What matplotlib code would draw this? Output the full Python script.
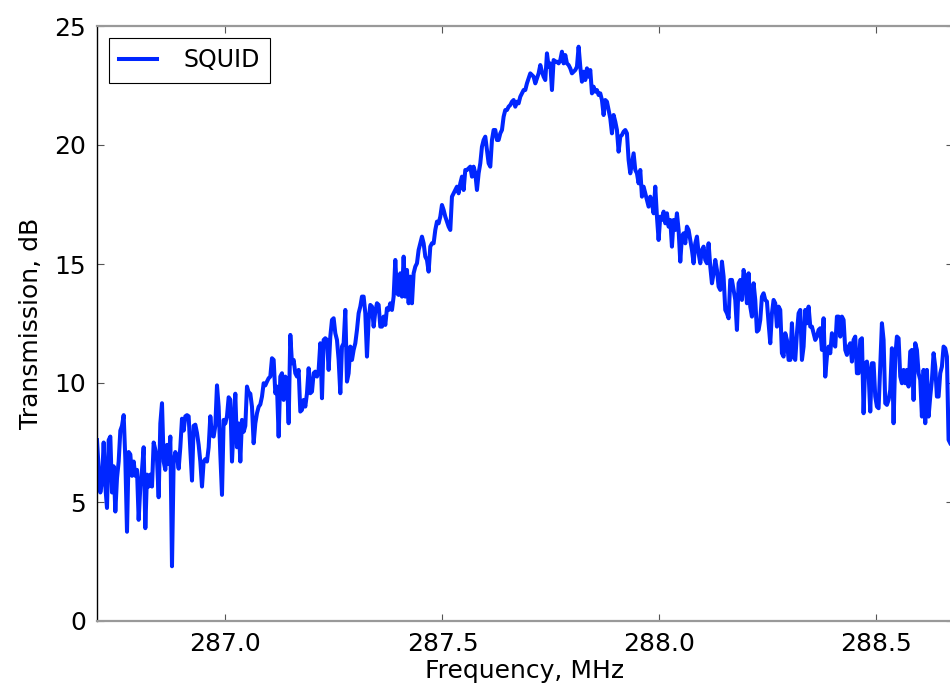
import numpy as np
import matplotlib
matplotlib.use("Agg")
import matplotlib.pyplot as plt

# sweep range (MHz), points are evenly spaced
f_start = 286.704
f_stop = 288.670

# transmission in dB left to right
db_left_tail = [
    7.6, 6.4, 5.4, 5.9, 7.5, 5.65, 4.75, 7.6, 7.75, 5.4, 6.5, 4.6, 6.0, 6.7, 8.0,
    8.2, 8.65, 6.8, 3.75, 7.1, 7.0, 6.1, 6.7, 6.1, 6.35, 4.25, 5.65, 6.35, 7.3, 3.9,
    6.15, 5.65, 6.15, 5.65, 7.5, 7.2, 6.8, 5.2, 8.3, 9.15, 6.7, 6.35, 7.4, 6.6, 7.75,
    2.3, 6.7, 7.1, 6.9, 6.4, 7.3, 8.5, 8.0, 8.6, 8.65, 8.6, 7.2, 5.9, 8.2, 8.25,
    7.9, 7.4, 6.7, 5.65, 6.7, 6.8, 6.7, 7.3, 8.6, 7.8, 7.75, 8.2, 9.9, 9.0, 7.0,
    5.3, 8.45, 8.3, 8.6, 9.4, 9.3, 6.7, 8.2, 9.55, 7.3, 8.3, 6.7, 8.45, 7.95, 8.2,
]
db_lower_rise = [
    9.85, 9.6, 9.55, 9.0, 7.47, 8.3, 8.73, 9.0, 9.1, 9.43, 9.99, 9.9, 10.06, 10.2, 10.27,
    11.04, 10.97, 9.57, 9.85, 7.75, 10.27, 10.41, 9.29, 10.27, 10.13, 8.31, 12.02, 10.83, 10.97, 10.41,
    10.27, 10.55, 8.8, 8.87, 9.29, 9.01, 9.57, 10.62, 9.57, 9.64, 10.41, 10.48, 10.27, 10.55, 11.67,
    9.36, 11.81, 11.88, 11.81, 10.55, 11.95, 12.65, 12.72, 12.09, 11.81, 10.97, 9.57, 11.53, 11.67, 13.07,
    10.06, 10.41, 11.53, 10.97, 11.39, 11.67, 12.23, 12.93, 13.21, 13.63, 13.63, 12.93, 11.11, 12.65, 13.28,
    13.21, 12.37, 13.0, 13.35, 13.28, 12.37, 12.37, 12.79, 12.44, 13.14, 13.07, 13.35,
]
db_upper_rise = [
    13.07, 13.63, 15.17, 13.77, 13.7, 14.61, 13.63, 15.31, 13.63, 14.75, 13.35, 14.47, 13.35, 14.61, 14.89,
    15.03, 15.59, 15.87, 16.15, 15.87, 15.31, 15.17, 14.68, 15.73, 15.87, 15.87, 16.43, 16.78, 16.71, 16.99,
    17.48, 17.27, 16.99, 16.78, 16.57, 16.43, 17.83, 17.97, 18.11, 18.25, 17.97, 18.39, 18.67, 18.11, 18.95,
    18.95, 19.02, 19.09, 18.67, 19.09, 18.81, 18.11, 18.81, 19.23, 19.93, 20.21, 20.35, 19.79, 19.23, 19.09,
    20.21, 20.63, 20.63, 20.21, 20.21, 20.49, 20.63, 21.19, 21.47, 21.47, 21.61, 21.68, 21.82, 21.89, 21.61,
    21.82, 21.75, 22.03, 22.17, 22.31, 22.31, 22.59, 22.8, 23.01, 22.94, 22.87, 22.59, 22.8, 23.01, 23.36,
    23.08, 22.87, 22.73,
]
db_peak_fall = [
    23.85, 23.29, 23.43, 22.31, 23.57, 23.5, 23.5, 23.43, 23.57, 23.92, 23.43, 23.78, 23.43, 23.36, 23.22,
    23.01, 23.08, 23.15, 23.29, 24.13, 23.29, 22.66, 23.08, 22.73, 23.22, 22.87, 23.15, 22.17, 22.45, 22.24,
    22.31, 22.1, 22.17, 21.89, 21.26, 21.89, 21.82, 21.47, 21.12, 20.49, 21.26, 20.98, 20.63, 19.72, 20.35,
    20.42, 20.56, 20.63, 20.49, 19.37, 18.81, 19.23, 19.65, 18.95, 18.81, 18.39, 18.95, 17.83, 18.25, 17.97,
    17.69, 17.41, 17.83, 17.55, 17.13, 18.25, 16.99, 16.01, 16.99, 16.85, 17.2, 16.71, 17.13, 16.57, 16.85,
    15.73, 16.85, 16.43, 17.13, 16.43, 15.1, 16.15, 16.29, 15.87, 16.57, 16.43, 16.01,
]
db_lower_fall = [
    15.59, 15.03, 15.87, 16.15, 15.45, 15.03, 15.59, 15.73, 15.17, 15.03, 15.87, 14.89, 14.19, 14.61, 15.17,
    14.75, 14.05, 13.91, 15.1, 14.47, 13.07, 12.93, 12.72, 14.33, 14.33, 13.91, 13.49, 12.23, 14.19, 14.33,
    13.49, 14.75, 14.33, 13.35, 14.61, 13.21, 12.79, 14.19, 13.49, 12.16, 12.23, 12.65, 13.63, 13.77, 13.49,
    13.42, 12.51, 11.67, 12.93, 13.49, 13.35, 12.37, 13.21, 13.07, 11.25, 11.11, 12.09, 11.81, 10.97, 10.97,
    12.51, 11.11, 10.97, 12.09, 12.93, 13.07, 10.97, 11.53, 13.07, 12.51, 13.21, 12.37, 12.37, 12.09, 11.81,
    11.95, 12.23, 12.3, 11.39, 12.72, 10.27, 11.11, 11.53, 11.25, 12.09, 11.67, 11.53,
]
db_right_tail = [
    12.79, 12.79, 11.95, 12.79, 12.65, 11.39, 11.18, 11.53, 11.67, 10.9, 11.81, 11.95, 10.41, 10.41, 11.81,
    11.88, 8.73, 10.83, 10.9, 10.41, 8.8, 10.83, 10.83, 9.43, 9.01, 8.94, 10.69, 12.51, 11.81, 9.15,
    9.08, 9.29, 9.71, 11.46, 8.31, 11.11, 11.95, 11.88, 10.27, 9.99, 10.55, 9.99, 10.55, 9.85, 11.32,
    11.39, 9.29, 11.67, 11.39, 10.41, 10.13, 8.59, 10.55, 8.31, 10.55, 8.59, 9.43, 10.13, 11.25, 10.69,
    9.43, 9.43, 10.41, 10.69, 11.53, 11.46, 11.11, 7.61, 7.47,
]

trans_db = (db_left_tail + db_lower_rise + db_upper_rise
            + db_peak_fall + db_lower_fall + db_right_tail)
freq = np.linspace(f_start, f_stop, len(trans_db))

fig = plt.figure(figsize=(9.5, 6.93), dpi=100)
fig.patch.set_facecolor('white')
# axes run a little past the right edge, as in the cropped original
ax = fig.add_axes([97 / 950, 72 / 693, 856 / 950, 595 / 693])

ax.plot(freq, trans_db, color='#0026ff', linewidth=2.9, label='SQUID')

ax.set_xlim(286.704, 286.704 + 856 / 434)
ax.set_ylim(0, 25)
ax.set_xticks([287.0, 287.5, 288.0, 288.5])
ax.set_yticks([0, 5, 10, 15, 20, 25])
ax.xaxis.set_major_formatter(matplotlib.ticker.FormatStrFormatter('%.1f'))
ax.tick_params(direction='in', top=True, right=True, length=5, width=0.8,
               labelsize=18, pad=8, colors='#555555', labelcolor='black')

for side in ['top', 'bottom']:
    ax.spines[side].set_color('#999999')
    ax.spines[side].set_linewidth(1.6)
ax.spines['left'].set_color('black')
ax.spines['left'].set_linewidth(1.0)

ax.set_xlabel('Frequency, MHz', fontsize=18, labelpad=2)
ax.set_ylabel('Transmission, dB', fontsize=18, labelpad=8)

leg = ax.legend(loc='upper left', fontsize=17, fancybox=False, framealpha=1,
                handlelength=1.6, handletextpad=1.1, borderpad=0.45,
                borderaxespad=0.5)
leg.get_frame().set_edgecolor('black')
leg.get_frame().set_linewidth(0.8)

plt.savefig('out.png', dpi=100, facecolor='white')
